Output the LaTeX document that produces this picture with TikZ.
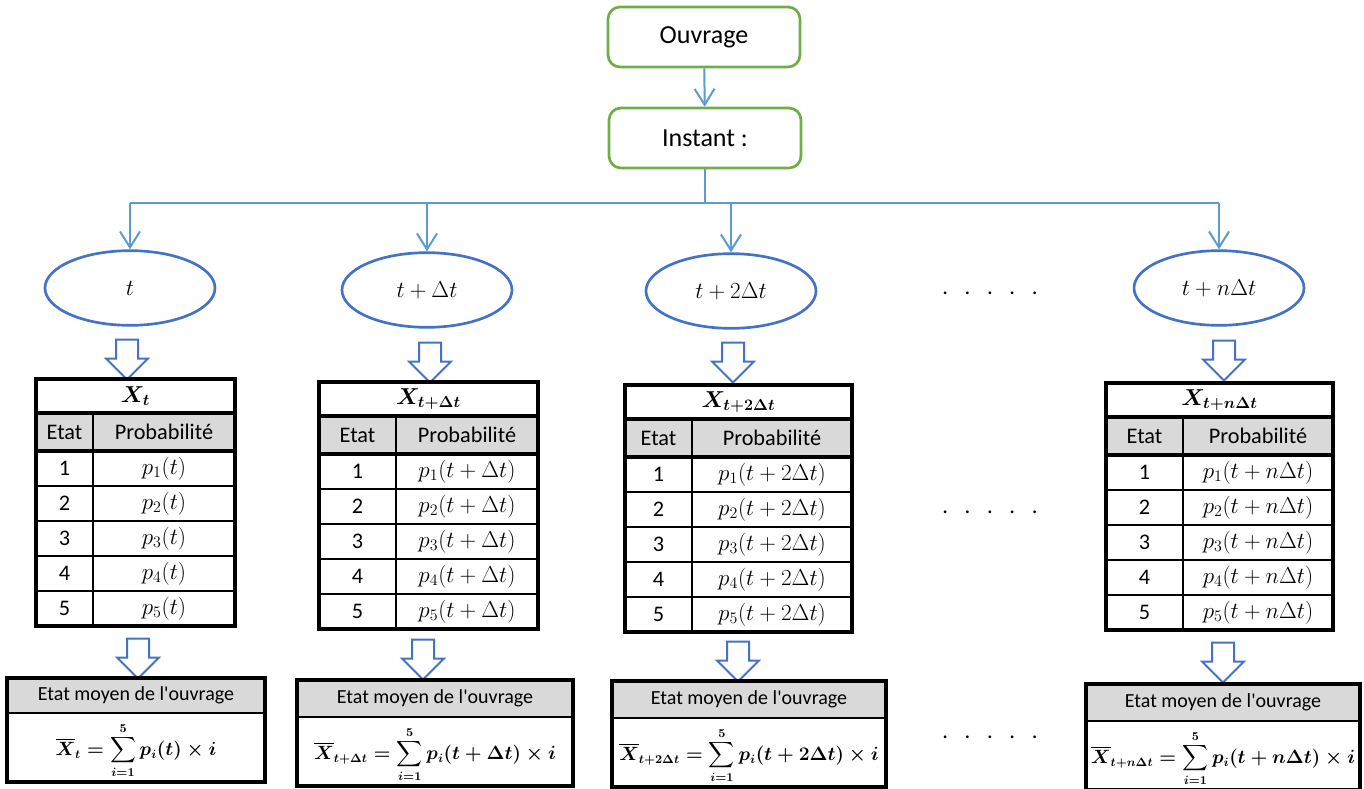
\documentclass[tikz,border=0pt]{standalone}
\usepackage{amsmath}
\usepackage{amssymb}
\usepackage[no-math]{fontspec}
\setmainfont{Carlito}
\usepackage{tikz}
\usetikzlibrary{arrows.meta, shapes.geometric, shapes.arrows}
\definecolor{boxgreen}{HTML}{70AD47}
\definecolor{elblue}{HTML}{4472C4}
\definecolor{linkblue}{HTML}{5B9BD5}
\definecolor{headgray}{HTML}{D9D9D9}

\begin{document}
\begin{tikzpicture}[x=0.75pt, y=-0.75pt,
  box/.style={draw=boxgreen, line width=2pt, rounded corners=9pt, minimum width=144pt, minimum height=45pt, font=\fontsize{19.5}{23}\selectfont},
  instant/.style={ellipse, draw=elblue, line width=2pt, minimum width=127.5pt, minimum height=56pt, inner sep=0pt, font=\fontsize{17}{20}\selectfont},
  bigarrow/.style={single arrow, draw=elblue, line width=1.5pt, fill=white, minimum height=30pt, inner xsep=0pt, inner ysep=7.5pt, single arrow head extend=7.5pt, rotate=-90},
  bus/.style={draw=linkblue, line width=1.5pt},
  link/.style={bus, -{Straight Barb[length=12pt, width=15pt]}},
  rule/.style={line width=1.6pt},
  outer/.style={line width=2.4pt},
  cell/.style={font=\fontsize{16.7}{20}\selectfont},
  pcell/.style={font=\fontsize{17.8}{20}\selectfont},
  tabhead/.style={font=\fontsize{16.5}{20}\selectfont},
  moy/.style={inner sep=0pt, font=\fontsize{15}{18}\selectfont},
  formula/.style={inner sep=0pt, font=\fontsize{13.5}{16}\selectfont},
  dots/.style={font=\fontsize{17}{20}\selectfont}
]
\useasboundingbox (0,0) rectangle (1364,789);

% ouvrage et instant
\node[box] (ouv) at (704,37) {Ouvrage};
\node[box] (inst) at (705,138) {Instant :};
\draw[link] (ouv) -- (inst);
\coordinate (bus) at (705,203);

% instants t, t+dt, ...
\foreach \c/\x/\y/\tm/\ax/\ay in {1/130/288/t/127/354, 2/427/290/t+\Delta t/430/357, 3/731/291/t+2\Delta t/733/357, 4/1219/288/t+n\Delta t/1224/355}
{
  \node[instant] (e\c) at (\x,\y) {$\tm$};
  \node[bigarrow] (a\c) at (\ax,\ay) {};
}
\draw[bus] (inst) -- (bus);
\draw[bus] (e1.north |- bus) -- (e4.north |- bus);
\foreach \c in {1,...,4} \draw[link] (e\c.north |- bus) -- (e\c);

% tableaux des probabilites
\foreach \c/\xa/\xb/\xc/\yt/\tm in {1/36/93/235/379/t, 2/319/396/538/382/t+\Delta t, 3/625/692/852/385/t+2\Delta t, 4/1106/1183/1333/383/t+n\Delta t}
{
  \fill[headgray] (\xa,\yt+34) rectangle (\xc,\yt+72);
  \foreach \k in {1,...,4} \draw[rule] (\xa,\yt+72+35*\k) -- (\xc,\yt+72+35*\k);
  \draw[rule] (\xb,\yt+34) -- (\xb,\yt+247);
  \draw[outer] (\xa,\yt+34) rectangle (\xc,\yt+72);
  \draw[outer] (\xa,\yt) rectangle (\xc,\yt+247);
  \node[tabhead] (x\c) at ({(\xa+\xc)/2},\yt+17) {{\boldmath$X_{\tm}$}};
  \node[cell] (h\c) at ({(\xa+\xb)/2},\yt+53) {Etat};
  \node[cell] (p\c) at ({(\xb+\xc)/2},\yt+53) {Probabilité};
  \foreach \k in {1,...,5}
  {
    \node[cell] (n\c-\k) at ({(\xa+\xb)/2},\yt+54.5+35*\k) {\k};
    \node[pcell] (q\c-\k) at ({(\xb+\xc)/2},\yt+54.5+35*\k) {$p_{\k}(\tm)$};
  }
}

% etat moyen
\foreach \c/\xa/\xc/\yt/\ym/\yb/\tm/\ax/\ay in {1/7/265/678/713/782/t/138/653, 2/297/573/680/717/786/t+\Delta t/423/654, 3/612/886/681/718/787/t+2\Delta t/738/656, 4/1086/1360/684/721/790/t+n\Delta t/1223/657}
{
  \node[bigarrow] (b\c) at (\ax,\ay) {};
  \fill[headgray] (\xa,\yt) rectangle (\xc,\ym);
  \draw[rule] (\xa,\ym) -- (\xc,\ym);
  \draw[outer] (\xa,\yt) rectangle (\xc,\yb);
  \node[moy] (m\c) at ({(\xa+\xc)/2},{(\yt+\ym)/2}) {Etat moyen de l\textquotesingle ouvrage};
  \node[formula] (f\c) at ({(\xa+\xc)/2},{(\ym+\yb)/2+3}) {{\boldmath$\displaystyle\overline{X}_{\tm}=\sum_{i=1}^{5}p_{i}(\tm)\times i$}};
}

% points de suspension
\node[dots] (d1) at (990,293) {.\hspace{12.5pt}.\hspace{12.5pt}.\hspace{12.5pt}.\hspace{12.5pt}.};
\node[dots] (d2) at (990,512) {.\hspace{12.5pt}.\hspace{12.5pt}.\hspace{12.5pt}.\hspace{12.5pt}.};
\node[dots] (d3) at (990,737) {.\hspace{12.5pt}.\hspace{12.5pt}.\hspace{12.5pt}.\hspace{12.5pt}.};
\end{tikzpicture}
\end{document}
